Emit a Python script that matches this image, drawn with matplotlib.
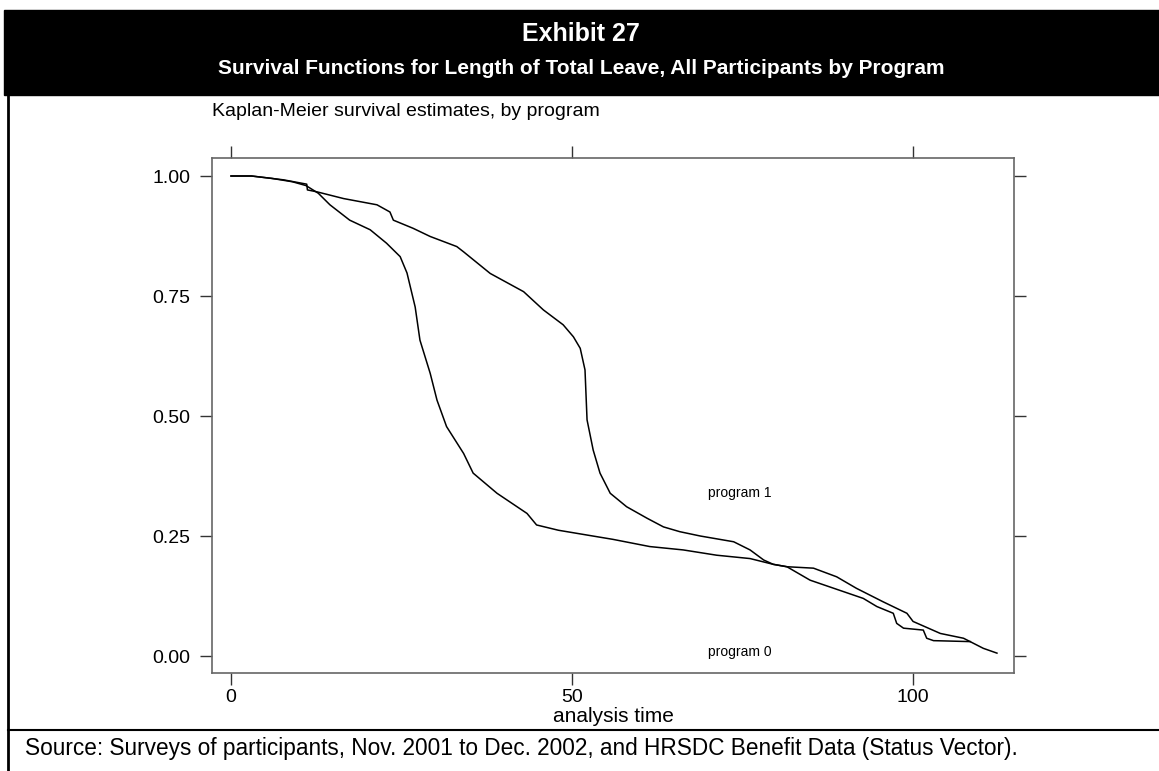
import matplotlib
matplotlib.use("Agg")
import matplotlib.pyplot as plt
from matplotlib.patches import Rectangle
from matplotlib.lines import Line2D

plt.rcParams["font.family"] = ["Liberation Sans", "DejaVu Sans"]

# Kaplan-Meier estimates (analysis time, survival)
t_prog0 = [0, 3, 6, 9, 11, 12.8, 14.5, 17.4, 20.4, 22.8, 24.8, 25.8, 27.0, 27.7,
           29.2, 30.2, 31.6, 34.1, 35.5, 39.0, 43.4, 44.8, 48, 52.2, 56, 61.4,
           66.3, 71.2, 76.1, 79.5, 81.5, 85.4, 88.8, 91.7, 95.6, 99.1, 100.0,
           104.0, 107.4, 110.3, 112.3]
s_prog0 = [1.0, 1.0, 0.995, 0.988, 0.98, 0.964, 0.94, 0.908, 0.888, 0.86, 0.832,
           0.798, 0.727, 0.658, 0.589, 0.533, 0.478, 0.422, 0.381, 0.339, 0.297,
           0.273, 0.262, 0.252, 0.243, 0.228, 0.221, 0.210, 0.203, 0.191, 0.186,
           0.183, 0.165, 0.141, 0.113, 0.089, 0.072, 0.047, 0.037, 0.016, 0.006]

t_prog1 = [0, 3, 7.7, 11.1, 11.2, 12.6, 16.5, 21.4, 23.3, 23.8, 26.7, 29.2, 33.1,
           34.1, 38.0, 42.9, 45.8, 48.7, 50.2, 51.2, 51.9, 52.2, 53.1, 54.1, 55.6,
           58.0, 61.0, 63.4, 65.8, 68.8, 73.7, 76.1, 78.1, 79.5, 81.5, 84.9, 92.7,
           94.7, 97.1, 97.6, 98.6, 101.5, 102.0, 103.0, 108.4]
s_prog1 = [1.0, 1.0, 0.992, 0.983, 0.971, 0.967, 0.953, 0.94, 0.925, 0.908, 0.891,
           0.874, 0.853, 0.842, 0.797, 0.759, 0.721, 0.690, 0.665, 0.641, 0.596,
           0.492, 0.429, 0.381, 0.339, 0.311, 0.287, 0.269, 0.259, 0.25, 0.238,
           0.221, 0.2, 0.191, 0.186, 0.158, 0.120, 0.103, 0.089, 0.068, 0.058,
           0.054, 0.037, 0.032, 0.030]

x_ticks = [0, 50, 100]
y_ticks = [0.0, 0.25, 0.5, 0.75, 1.0]
y_ticklabels = ["0.00", "0.25", "0.50", "0.75", "1.00"]

W, H = 1159, 771
fig = plt.figure(figsize=(W / 100, H / 100), dpi=100)

# black header band and frame lines
fig.patches.append(Rectangle((4 / W, 1 - 95 / H), (W - 4) / W, 85 / H,
                             transform=fig.transFigure, color="black", zorder=0))
fig.lines.append(Line2D([7.5 / W, 7.5 / W], [1 - 95 / H, 0], transform=fig.transFigure,
                        color="black", lw=2))
fig.lines.append(Line2D([7.5 / W, 1], [1 - 730 / H, 1 - 730 / H],
                        transform=fig.transFigure, color="black", lw=1.5))

fig.text(581 / W, 1 - 34 / H, "Exhibit 27", color="white", fontsize=18,
         fontweight="bold", ha="center", va="center")
fig.text(581 / W, 1 - 69 / H,
         "Survival Functions for Length of Total Leave, All Participants by Program",
         color="white", fontsize=15, fontweight="bold", ha="center", va="center")

ax = fig.add_axes([212 / W, 1 - 673 / H, (1014 - 212) / W, (673 - 158) / H])
ax.plot(t_prog0, s_prog0, color="black", lw=1.1)
ax.plot(t_prog1, s_prog1, color="black", lw=1.1)

ax.set_xlim(-2.79, 114.8)
ax.set_ylim(-0.0354, 1.0375)

ax.set_xticks(x_ticks)
ax.set_yticks(y_ticks)
ax.set_yticklabels(y_ticklabels)
ax.tick_params(axis="both", direction="out", length=8.5, width=1, color="#333333",
               labelsize=14, top=True, right=True, labeltop=False, labelright=False)
ax.tick_params(axis="y", pad=7)
ax.tick_params(axis="x", pad=3)
for sp in ax.spines.values():
    sp.set_color("#666666")
    sp.set_linewidth(1.2)

ax.text(70, 0.34, "program 1", fontsize=10, va="center", ha="left")
ax.text(70, 0.008, "program 0", fontsize=10, va="center", ha="left")

fig.text(212 / W, 1 - 112 / H, "Kaplan-Meier survival estimates, by program",
         fontsize=14, ha="left", va="center")
fig.text(613 / W, 1 - 716 / H, "analysis time", fontsize=15, ha="center", va="center")
fig.text(25 / W, 1 - 749 / H,
         "Source: Surveys of participants, Nov. 2001 to Dec. 2002, and HRSDC Benefit Data (Status Vector).",
         fontsize=16.3, ha="left", va="center")

fig.savefig("out.png", dpi=100)
